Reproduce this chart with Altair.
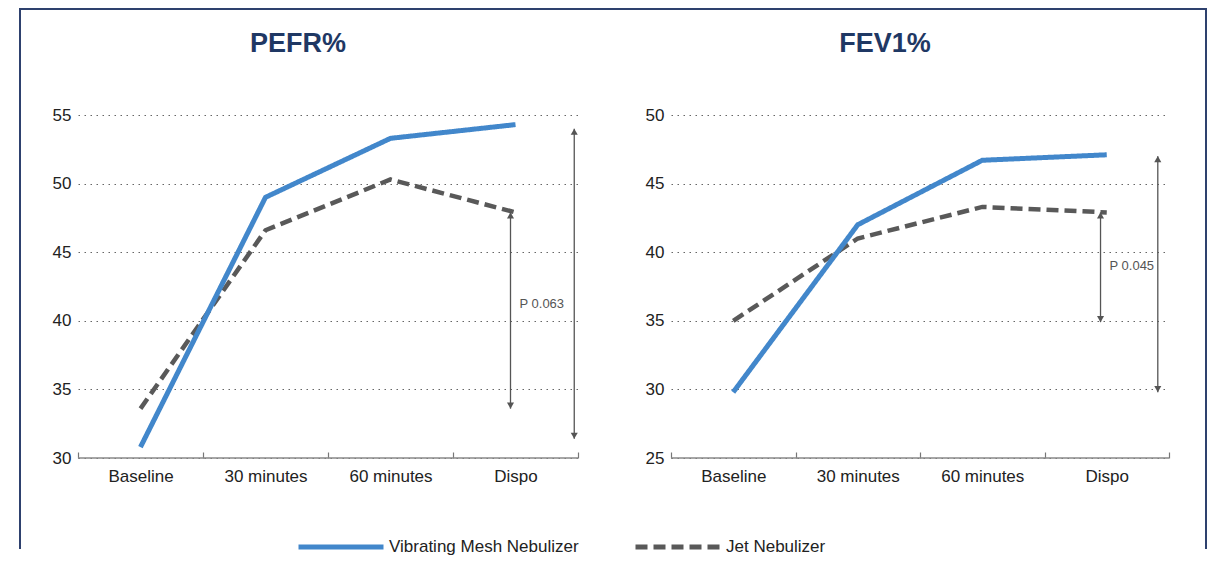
import altair as alt
import pandas as pd

# ---------------- data ----------------
categories = ["Baseline", "30 minutes", "60 minutes", "Dispo"]
series_names = ["Vibrating Mesh Nebulizer", "Jet Nebulizer"]

pefr_mesh = [30.8, 49.0, 53.3, 54.3]
pefr_jet = [33.6, 46.6, 50.3, 47.9]
fev1_mesh = [29.8, 42.0, 46.7, 47.1]
fev1_jet = [35.0, 41.0, 43.3, 42.9]

pefr_ticks = [30, 35, 40, 45, 50, 55]
fev1_ticks = [25, 30, 35, 40, 45, 50]

# comparison arrows (top value, bottom value) drawn at "Dispo"
pefr_arrow_inner = [47.9, 33.6]
pefr_arrow_outer = [54.0, 31.4]
fev1_arrow_inner = [42.9, 34.9]
fev1_arrow_outer = [47.0, 29.8]

pefr_p_text = ["P 0.063"]
pefr_p_at = [41.2]
fev1_p_text = ["P 0.045"]
fev1_p_at = [39.0]

# ---------------- style ----------------
BLUE = "#4287CB"
GREY = "#595959"
NAVY = "#1F3864"
ARROW = "#555555"
FRAME = "#2E416E"
FONT = "Liberation Sans"


def x_enc(width, band_pos=None):
    kw = {}
    if band_pos is not None:
        kw["bandPosition"] = band_pos
    return alt.X(
        "time:N",
        sort=categories,
        scale=alt.Scale(type="band", domain=categories, paddingInner=0, paddingOuter=0),
        axis=alt.Axis(
            title=None, labelAngle=0, domain=False, ticks=True, tickBand="extent",
            tickSize=6, offset=-6, tickColor="#777777", tickWidth=1.2,
            labelPadding=10, labelFontSize=17, labelFont=FONT, labelColor="#222222",
            grid=False,
        ),
        **kw,
    )


def y_enc(ticks, field="value"):
    return alt.Y(
        f"{field}:Q",
        scale=alt.Scale(domain=[ticks[0], ticks[-1]], nice=False, zero=False),
        axis=alt.Axis(
            title=None, values=ticks, grid=True, gridDash=[1.5, 4.5], gridColor="#666666",
            gridWidth=1, domain=False, ticks=False, labelPadding=7, labelFontSize=17,
            labelFont=FONT, labelColor="#222222",
        ),
    )


legend_kw = dict(
    title=None, orient="none", legendX=218, legendY=387, direction="horizontal",
    symbolType="stroke", symbolSize=7225, symbolStrokeWidth=5,
    labelFontSize=17, labelFont=FONT, labelColor="#222222", labelLimit=0,
    columnPadding=46, labelOffset=3,
)


def series_enc():
    color = alt.Color(
        "series:N", scale=alt.Scale(domain=series_names, range=[BLUE, GREY]),
        legend=alt.Legend(**legend_kw),
    )
    dash = alt.StrokeDash(
        "series:N", scale=alt.Scale(domain=series_names, range=[[1, 0], [12, 6]]),
        legend=alt.Legend(**legend_kw),
    )
    return color, dash


def arrow_layers(top, bottom, band_pos, width, ticks):
    adf = pd.DataFrame({"time": ["Dispo"], "value": [top], "bottom": [bottom]})
    base = alt.Chart(adf)
    xx = x_enc(width, band_pos)
    rule = base.mark_rule(color=ARROW, strokeWidth=1.3).encode(
        x=xx, y=y_enc(ticks), y2="bottom:Q"
    )
    up = base.mark_point(shape="triangle-up", filled=True, size=50, color=ARROW,
                         opacity=1, yOffset=3).encode(x=xx, y=y_enc(ticks))
    down = base.mark_point(shape="triangle-down", filled=True, size=50, color=ARROW,
                           opacity=1, yOffset=-3).encode(x=xx, y=y_enc(ticks, "bottom"))
    return [rule, up, down]


def panel(title, mesh, jet, ticks, inner, outer, inner_bp, outer_bp, ptext, pat,
          width, title_dx):
    df_mesh = pd.DataFrame({"time": categories, "series": series_names[0], "value": mesh})
    df_jet = pd.DataFrame({"time": categories, "series": series_names[1], "value": jet})
    color, dash = series_enc()

    axis_line = alt.Chart(pd.DataFrame({"value": [ticks[0]]})).mark_rule(
        color="#888888", strokeWidth=1.5
    ).encode(y=y_enc(ticks), x=alt.value(0), x2=alt.value(width))

    jet_line = alt.Chart(df_jet).mark_line(strokeWidth=4.5).encode(
        x=x_enc(width), y=y_enc(ticks), color=color, strokeDash=dash
    )
    mesh_line = alt.Chart(df_mesh).mark_line(strokeWidth=5).encode(
        x=x_enc(width), y=y_enc(ticks), color=color, strokeDash=dash
    )

    tdf = pd.DataFrame({"time": ["Dispo"], "value": pat, "label": ptext})
    ptxt = alt.Chart(tdf).mark_text(
        align="left", dx=9, fontSize=13, font=FONT, color="#555555"
    ).encode(x=x_enc(width, inner_bp), y=y_enc(ticks), text="label:N")

    layers = [axis_line, jet_line, mesh_line]
    layers += arrow_layers(inner[0], inner[1], inner_bp, width, ticks)
    layers += arrow_layers(outer[0], outer[1], outer_bp, width, ticks)
    layers += [ptxt]

    return alt.layer(*layers).properties(
        width=width, height=343,
        title=alt.TitleParams(
            text=title, fontSize=27, font=FONT, fontWeight="bold", color=NAVY,
            anchor="middle", dx=title_dx, offset=48, frame="group",
        ),
    )


left = panel("PEFR%", pefr_mesh, pefr_jet, pefr_ticks, pefr_arrow_inner, pefr_arrow_outer,
             0.46, 0.97, pefr_p_text, pefr_p_at, 500, -30)
right = panel("FEV1%", fev1_mesh, fev1_jet, fev1_ticks, fev1_arrow_inner, fev1_arrow_outer,
              0.45, 0.91, fev1_p_text, fev1_p_at, 498, -35)

# decorative outer frame, drawn from a 1x1 helper view placed below the panels
FY = 363  # helper view's top, relative to the panels' top
fdf = pd.DataFrame({"frame": [0]})
fb = alt.Chart(fdf)
frame_chart = alt.layer(
    fb.mark_rule(color=FRAME, strokeWidth=2).encode(
        x=alt.value(-58), y=alt.value(-109 - FY), y2=alt.value(434 - FY)),
    fb.mark_rule(color=FRAME, strokeWidth=2).encode(
        x=alt.value(1128), y=alt.value(-109 - FY), y2=alt.value(434 - FY)),
    fb.mark_rule(color=FRAME, strokeWidth=2).encode(
        x=alt.value(-59), x2=alt.value(1129), y=alt.value(-106 - FY)),
).properties(width=1, height=1)

chart = alt.concat(
    left, right, frame_chart, columns=2,
    spacing={"row": FY - 343, "column": 93}, bounds="flush",
).properties(
    padding={"left": 10, "top": -3, "right": 0, "bottom": 0},
    background="white",
).configure_view(stroke=None)

chart.save("out.html", embed_options={"renderer": "svg", "actions": False})
